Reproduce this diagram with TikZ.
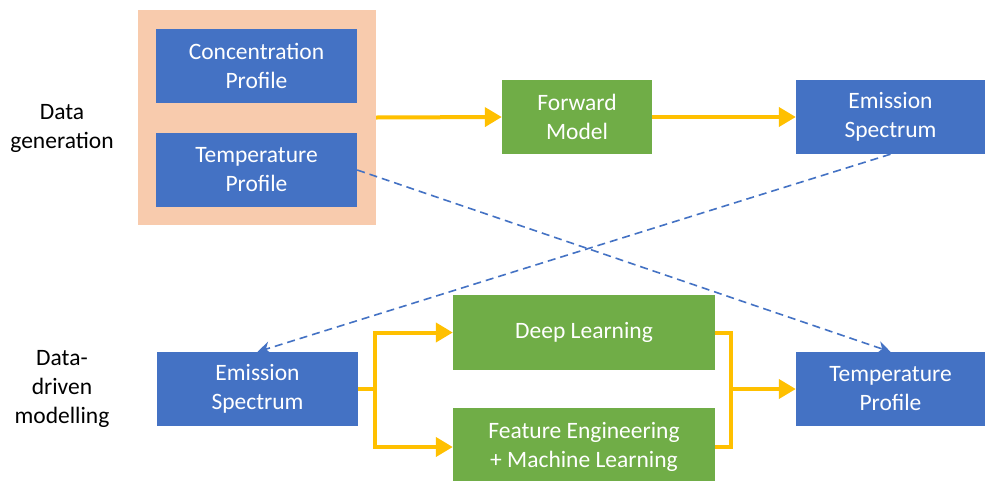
\documentclass[tikz,border=0pt]{standalone}
\usepackage{fontspec}
\setmainfont{Carlito}
\usetikzlibrary{arrows.meta}
\definecolor{boxblue}{HTML}{4472C4}
\definecolor{boxgreen}{HTML}{70AD47}
\definecolor{peach}{HTML}{F8CBAD}
\definecolor{flow}{HTML}{FFC000}
\begin{document}
\begin{tikzpicture}[x=1pt,y=-1pt,
  font=\fontsize{23.5}{29}\selectfont,
  bluebox/.style={fill=boxblue,text=white,inner sep=0pt,align=center},
  greenbox/.style={fill=boxgreen,text=white,inner sep=0pt,align=center},
  flowline/.style={draw=flow,line width=4pt},
  flowarrow/.style={flowline,-{Triangle[length=17pt,width=19pt]}},
  dasharrow/.style={draw=boxblue,line width=1.6pt,dash pattern=on 8pt off 5pt,-{Stealth[length=13pt,width=13pt]}},
  lbl/.style={align=center,text=black}]
\clip (0,0) rectangle (985,480);
\fill[white] (0,0) rectangle (985,480);
% peach group
\node[fill=peach,minimum width=238pt,minimum height=215pt,inner sep=0pt] (grp) at (257,117.5) {};
\node[bluebox,minimum width=201pt,minimum height=74pt] (cp) at (256.5,66) {Concentration\\Profile};
\node[bluebox,minimum width=201pt,minimum height=74pt] (tp1) at (256.5,170) {Temperature\\Profile};
\node[greenbox,minimum width=150pt,minimum height=74pt] (fm) at (577,117) {Forward\\Model};
\node[bluebox,minimum width=189pt,minimum height=74pt] (es1) at (890.5,117) {Emission\\Spectrum};
% bottom row
\node[bluebox,minimum width=201pt,minimum height=74pt] (es2) at (257.5,389) {Emission\\Spectrum};
\node[greenbox,minimum width=262pt,minimum height=75pt] (dl) at (584,332.5) {Deep Learning};
\node[greenbox,minimum width=262pt,minimum height=78pt] (fe) at (584,447) {Feature Engineering\\+ Machine Learning};
\node[bluebox,minimum width=189pt,minimum height=74pt] (tp2) at (890.5,389) {Temperature\\Profile};
% labels
\node[lbl] (lg) at (62,128) {Data\\generation};
\node[lbl] (ld) at (62,389) {Data-\\driven\\modelling};
% flows
\draw[flowarrow] (grp.east) -- (fm.west);
\draw[flowarrow] (fm.east) -- (es1.west);
\coordinate (bl) at (375,389);
\coordinate (br) at (731,389);
\draw[flowline] (es2.east) -- (bl);
\draw[flowarrow] (bl) |- (dl.west);
\draw[flowarrow] (bl) |- (fe.west);
\draw[flowline] (dl.east) -| (br);
\draw[flowline] (fe.east) -| (br);
\draw[flowarrow] (br) -- (tp2.west);
% dashed
\draw[dasharrow] (tp1.east) -- (tp2.north);
\draw[dasharrow] (es1.south) -- (es2.north);
\end{tikzpicture}
\end{document}
